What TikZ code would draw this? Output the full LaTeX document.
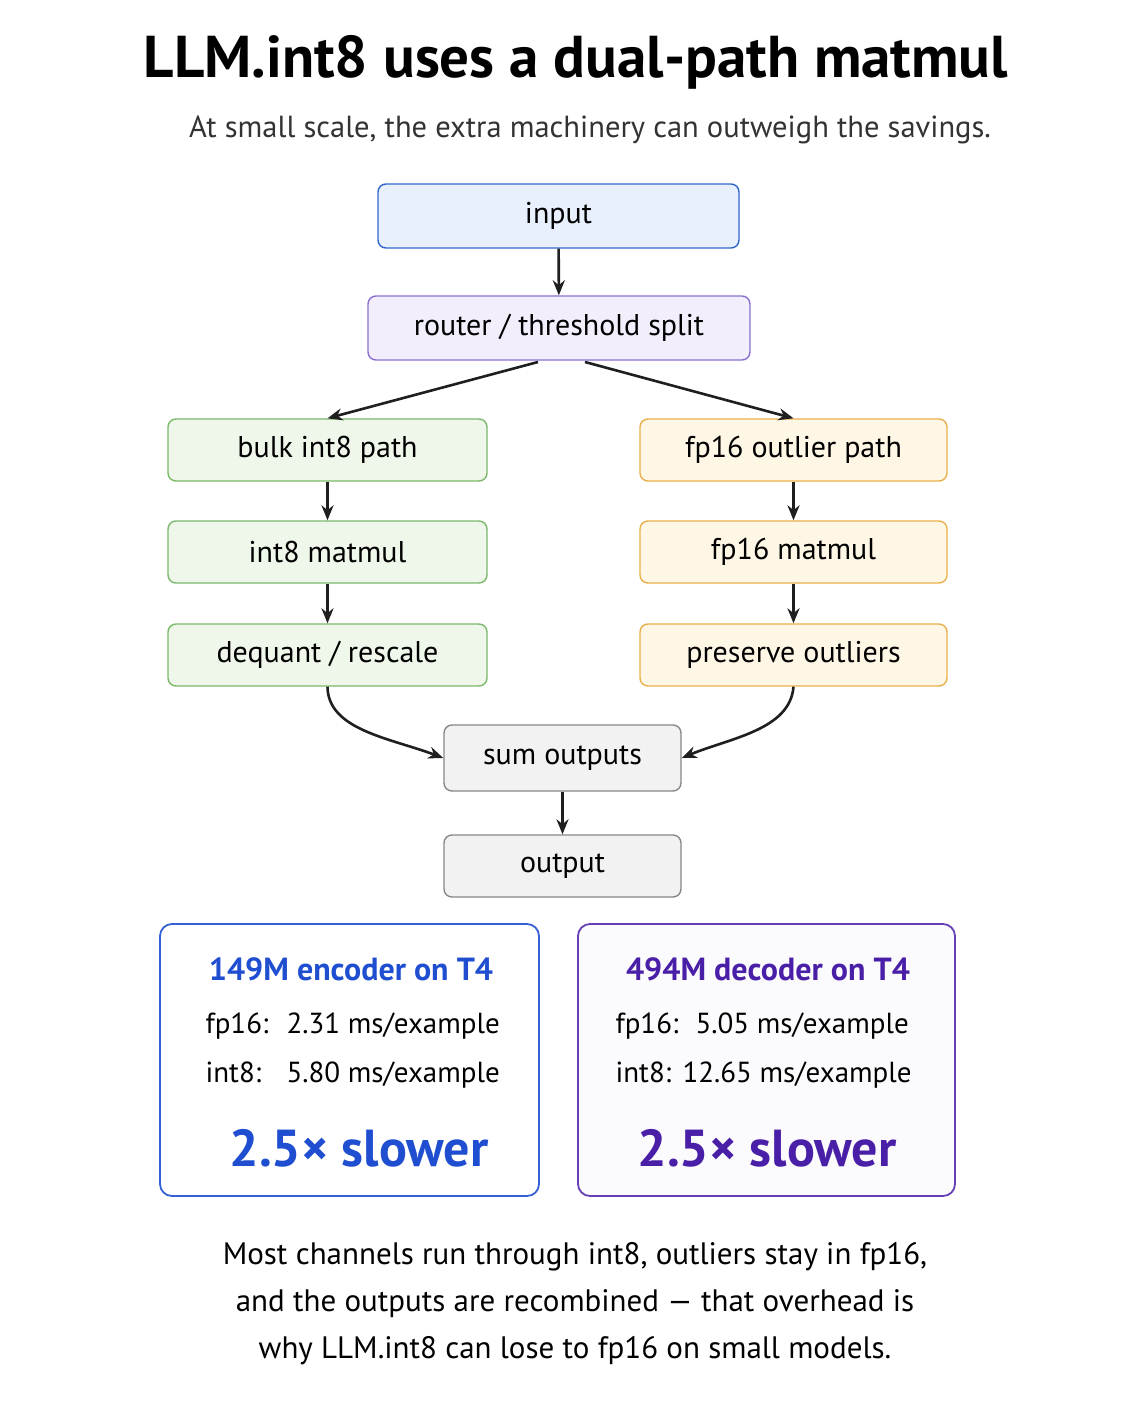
\documentclass[tikz,border=0pt]{standalone}
\usepackage{fontspec}
\setmainfont{PT Sans}
\usetikzlibrary{arrows.meta}
\begin{document}
\begin{tikzpicture}[x=1pt,y=-1pt,
 box/.style={draw,rounded corners=8pt,line width=1.4pt,font=\fontsize{30}{34}\selectfont,inner sep=0pt},
 gbox/.style={box,draw=gB,fill=gF,minimum width=319pt,minimum height=62pt},
 obox/.style={box,draw=oB,fill=oF,minimum width=307pt,minimum height=62pt},
 arr/.style={-{Stealth[length=15pt,width=12pt]},line width=2.6pt,black!88},
 pan/.style={draw,rounded corners=12pt,line width=1.8pt},
 ln/.style={font=\fontsize{29}{34}\selectfont,anchor=west}]
\useasboundingbox (0,0) rectangle (1122,1402);
\fill[white] (0,0) rectangle (1122,1402);
\node (title) at (576,62) {\fontsize{59}{64}\selectfont\bfseries LLM.int8 uses a dual-path matmul};
\node (sub) at (590,130) {\fontsize{30.5}{34}\selectfont\color{black!80}At small scale, the extra machinery can outweigh the savings.};
\definecolor{bB}{HTML}{3366CC}\definecolor{bF}{HTML}{E8F0FE}
\definecolor{pB}{HTML}{8B6FD0}\definecolor{pF}{HTML}{F3EEFC}
\definecolor{gB}{HTML}{7CB86A}\definecolor{gF}{HTML}{EEF7EA}
\definecolor{oB}{HTML}{E8B04A}\definecolor{oF}{HTML}{FFF7E6}
\definecolor{kB}{HTML}{888888}\definecolor{kF}{HTML}{F2F2F2}
\definecolor{blueT}{HTML}{1F4FD0}\definecolor{purT}{HTML}{4A1FA8}
\node[box,draw=bB,fill=bF,minimum width=361pt,minimum height=64pt] (in) at (558.5,216) {input};
\node[box,draw=pB,fill=pF,minimum width=382pt,minimum height=64pt] (rt) at (559,328) {router / threshold split};
\node[gbox] (l1) at (327.5,450) {bulk int8 path};
\node[gbox] (l2) at (327.5,552) {int8 matmul};
\node[gbox] (l3) at (327.5,655) {dequant / rescale};
\node[obox] (r1) at (793.5,450) {fp16 outlier path};
\node[obox] (r2) at (793.5,552) {fp16 matmul};
\node[obox] (r3) at (793.5,655) {preserve outliers};
\node[box,draw=kB,fill=kF,minimum width=237pt,minimum height=66pt] (sum) at (562.5,758) {sum outputs};
\node[box,draw=kB,fill=kF,minimum width=237pt,minimum height=62pt] (out) at (562.5,866) {output};
\coordinate (ra) at (538,362);
\coordinate (rb) at (585,362);
\draw[arr] (in) -- (rt);
\draw[arr] (ra) -- (l1.north);
\draw[arr] (rb) -- (r1.north);
\draw[arr] (l1) -- (l2); \draw[arr] (l2) -- (l3);
\draw[arr] (r1) -- (r2); \draw[arr] (r2) -- (r3);
\draw[arr] (l3.south) .. controls (328,730) and (390,738) .. (sum.west);
\draw[arr] (r3.south) .. controls (790,730) and (730,738) .. (sum.east);
\draw[arr] (sum) -- (out);
\node[pan,draw=blueT!90,fill=white,minimum width=379pt,minimum height=272pt] (pl) at (349.5,1060) {};
\node[pan,draw=purT!85,fill=purT!2,minimum width=377pt,minimum height=272pt] (pr) at (766.5,1060) {};
\node[text=blueT,font=\fontsize{32}{36}\selectfont\bfseries] (lh) at (351,969) {149M encoder on T4};
\node[ln] (la) at (202,1026) {\makebox[81pt][l]{fp16:}2.31 ms/example};
\node[ln] (lb) at (202,1075) {\makebox[81pt][l]{int8:}5.80 ms/example};
\node[text=blueT,font=\fontsize{52}{58}\selectfont\bfseries] (ls) at (359,1148) {2.5× slower};
\node[text=purT,font=\fontsize{32}{36}\selectfont\bfseries] (rh) at (768,969) {494M decoder on T4};
\node[ln] (ra2) at (612,1026) {\makebox[80pt][l]{fp16:}5.05 ms/example};
\node[ln] (rb2) at (612,1075) {\makebox[67pt][l]{int8:}12.65 ms/example};
\node[text=purT,font=\fontsize{52}{58}\selectfont\bfseries] (rs) at (767,1148) {2.5× slower};
\node[font=\fontsize{31}{47}\selectfont,align=center] (foot) at (575,1304) {Most channels run through int8, outliers stay in fp16,\\and the outputs are recombined — that overhead is\\why LLM.int8 can lose to fp16 on small models.};
\end{tikzpicture}
\end{document}
